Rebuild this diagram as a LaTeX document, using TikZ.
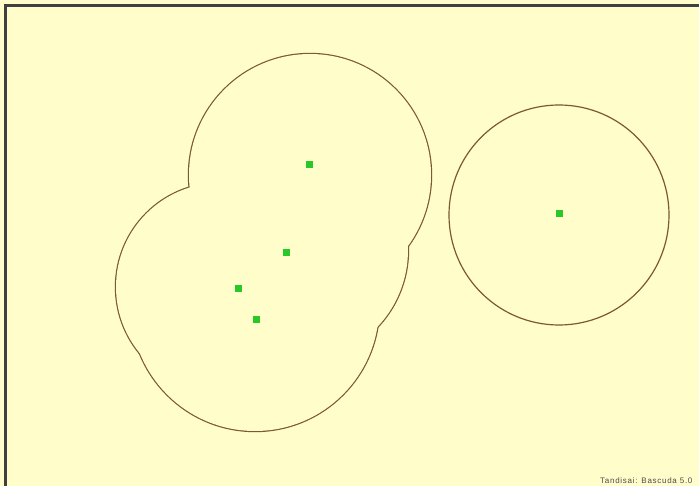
\documentclass[tikz,border=0pt]{standalone}
\usepackage{fontspec}
\setmainfont{Liberation Sans}
\newfontfamily\fussfont[LetterSpace=9]{Liberation Sans}
\definecolor{hgrund}{RGB}{255,253,202}
\definecolor{rand}{RGB}{125,88,48}
\definecolor{punktgruen}{RGB}{40,200,40}
\begin{document}
\begin{tikzpicture}[x=1pt,y=-1pt,
  punkt/.style={fill=punktgruen,minimum size=7pt,inner sep=0pt},
  umriss/.style={draw=rand,line width=1.2pt}]
\useasboundingbox (0,0) rectangle (699,486);
% Hintergrund und Rahmen
\fill[hgrund] (0,0) rectangle (699,486);
\draw[line width=2.5pt,black!75] (5.5,486) -- (5.5,5.5) -- (699,5.5);
% Umriss der Gruppe links (Vereinigung der Kreise)
\foreach \x/\y/\r in {310/175/121, 220/287/104, 255/307/124, 296/250/112}
  \draw[rand,line width=2.4pt] (\x,\y) circle (\r pt);
\foreach \x/\y/\r in {310/175/121, 220/287/104, 255/307/124, 296/250/112}
  \fill[hgrund] (\x,\y) circle (\r pt);
% Kreis rechts
\draw[umriss] (559,215) circle (110pt);
% Punkte
\node[punkt] (p1) at (309,165) {};
\node[punkt] (p2) at (286,253) {};
\node[punkt] (p3) at (238,289) {};
\node[punkt] (p4) at (256,320) {};
\node[punkt] (p5) at (559,214) {};
% Fusszeile
\node[anchor=base west,inner sep=0pt,text=black!70,font=\fussfont\fontsize{8}{9}\selectfont] (info) at (600,483) {Tandisai: Bascuda 5.0};
\end{tikzpicture}
\end{document}
